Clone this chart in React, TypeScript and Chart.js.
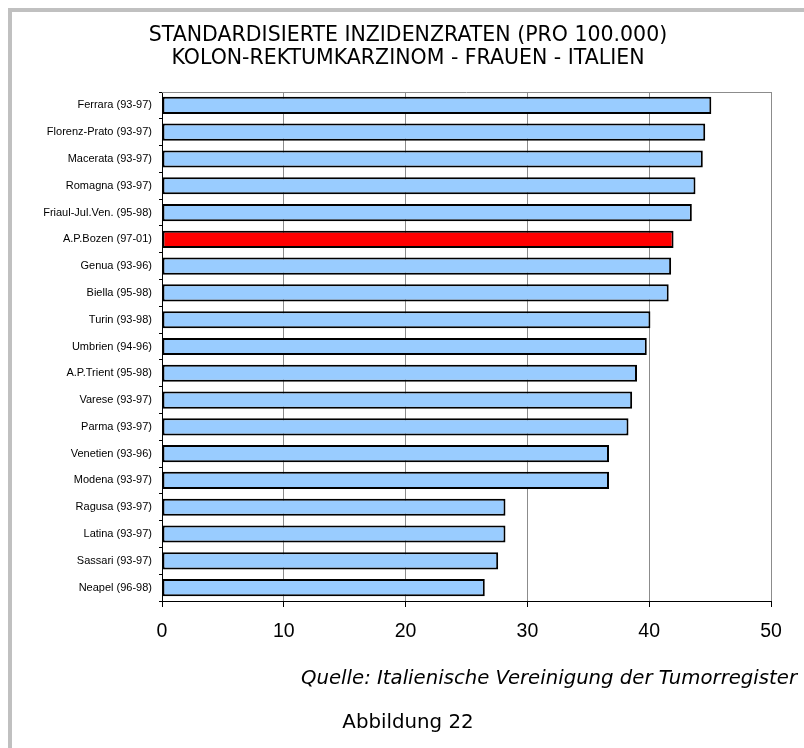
import React, { useEffect, useRef } from "react";
import { Chart, registerables } from "chart.js";

Chart.register(...registerables);

const titleLines = [
  "STANDARDISIERTE INZIDENZRATEN (PRO 100.000)",
  "KOLON-REKTUMKARZINOM - FRAUEN - ITALIEN",
];

const registries = [
  "Ferrara (93-97)",
  "Florenz-Prato (93-97)",
  "Macerata (93-97)",
  "Romagna (93-97)",
  "Friaul-Jul.Ven. (95-98)",
  "A.P.Bozen (97-01)",
  "Genua (93-96)",
  "Biella (95-98)",
  "Turin (93-98)",
  "Umbrien (94-96)",
  "A.P.Trient (95-98)",
  "Varese (93-97)",
  "Parma (93-97)",
  "Venetien (93-96)",
  "Modena (93-97)",
  "Ragusa (93-97)",
  "Latina (93-97)",
  "Sassari (93-97)",
  "Neapel (96-98)",
];

const incidenceRates = [
  45.1, 44.6, 44.4, 43.8, 43.5, 42.0, 41.8, 41.6, 40.1, 39.8, 39.0, 38.6,
  38.3, 36.7, 36.7, 28.2, 28.2, 27.6, 26.5,
];

const highlighted = "A.P.Bozen (97-01)";

const xMin = 0;
const xMax = 50;
const xStep = 10;

const sourceText = "Quelle: Italienische Vereinigung der Tumorregister";
const figureText = "Abbildung 22";

const topBorderPlugin = {
  id: "topBorder",
  beforeDatasetsDraw(chart: any) {
    const { ctx, chartArea } = chart;
    ctx.save();
    ctx.strokeStyle = "#8c8c8c";
    ctx.lineWidth = 1;
    ctx.beginPath();
    ctx.moveTo(chartArea.left, Math.round(chartArea.top) + 0.5);
    ctx.lineTo(chartArea.right, Math.round(chartArea.top) + 0.5);
    ctx.stroke();
    ctx.restore();
  },
};

export default function App() {
  const canvasRef = useRef<HTMLCanvasElement>(null);

  useEffect(() => {
    document.body.style.margin = "0";
    const canvas = canvasRef.current;
    if (!canvas) return;
    const colors = registries.map((r) => (r === highlighted ? "#FF0000" : "#99CCFF"));
    const chart = new Chart(canvas, {
      type: "bar",
      data: {
        labels: registries,
        datasets: [
          {
            data: incidenceRates,
            backgroundColor: colors,
            borderColor: "#000000",
            borderWidth: 2,
            borderSkipped: false,
            categoryPercentage: 1,
            barPercentage: 0.64,
          },
        ],
      },
      options: {
        indexAxis: "y",
        responsive: false,
        animation: false,
        devicePixelRatio: 1,
        layout: { padding: { left: 0, right: 33, top: 92, bottom: 107 } },
        plugins: {
          legend: { display: false },
          tooltip: { enabled: false },
          title: { display: false },
        },
        scales: {
          x: {
            type: "linear",
            min: xMin,
            max: xMax,
            ticks: {
              stepSize: xStep,
              color: "#000",
              padding: 13,
              font: { family: "'Liberation Sans'", size: 19.5 },
            },
            grid: {
              color: (c: any) => (c.index === 0 ? "rgba(0,0,0,0)" : "#8c8c8c"),
              tickColor: "#000",
              tickLength: 6,
              lineWidth: 1,
            },
            border: { color: "#000", width: 1 },
            afterFit: (s: any) => {
              s.height = 40;
            },
          },
          y: {
            type: "category",
            ticks: {
              color: "#000",
              padding: 7,
              autoSkip: false,
              font: { family: "'Liberation Sans'", size: 11 },
            },
            grid: {
              offset: true,
              drawOnChartArea: false,
              tickLength: 3,
              color: "#000",
              tickColor: "#000",
            },
            border: { color: "#000", width: 1 },
            afterFit: (s: any) => {
              s.width = 162;
            },
          },
        },
      },
      plugins: [topBorderPlugin],
    });
    return () => chart.destroy();
  }, []);

  return (
    <div style={{ position: "relative", width: 804, height: 748, overflow: "hidden", background: "#fff" }}>
      <div
        style={{
          position: "absolute",
          left: 8,
          top: 8,
          right: -10,
          bottom: -10,
          borderLeft: "4px solid #c0c0c0",
          borderTop: "4px solid #c0c0c0",
        }}
      />
      <canvas ref={canvasRef} width={804} height={748} style={{ position: "absolute", left: 0, top: 0 }} />
      <div
        style={{
          position: "absolute",
          left: 0,
          width: 816,
          top: 23,
          textAlign: "center",
          fontFamily: "'DejaVu Sans'",
          fontSize: 20.5,
          lineHeight: "22.5px",
          whiteSpace: "nowrap",
          color: "#000",
        }}
      >
        {titleLines.map((t) => (
          <div key={t}>{t}</div>
        ))}
      </div>
      <div
        style={{
          position: "absolute",
          right: 7,
          top: 668,
          fontFamily: "'DejaVu Sans'",
          fontStyle: "italic",
          fontSize: 19.7,
          lineHeight: "20px",
          whiteSpace: "nowrap",
          color: "#000",
        }}
      >
        {sourceText}
      </div>
      <div
        style={{
          position: "absolute",
          left: 308,
          width: 200,
          top: 712,
          textAlign: "center",
          fontFamily: "'DejaVu Sans'",
          fontSize: 19.8,
          lineHeight: "20px",
          whiteSpace: "nowrap",
          color: "#000",
        }}
      >
        {figureText}
      </div>
    </div>
  );
}
